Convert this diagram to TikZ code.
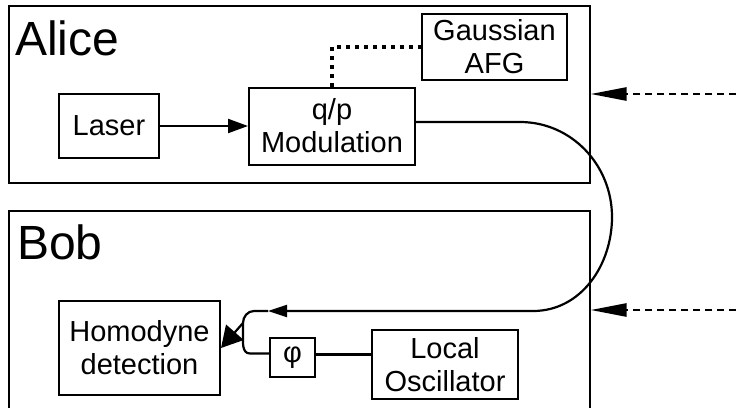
\documentclass[tikz,border=0pt]{standalone}
\usepackage{fontspec}
\setmainfont{Liberation Sans}
\usetikzlibrary{positioning}
\usetikzlibrary{arrows.meta}
\tikzstyle{frame} = [draw, rectangle, line width=1.1pt, inner sep=0pt]
\tikzstyle{block} = [draw, rectangle, line width=2pt, align=center, inner sep=2pt, font=\fontsize{29}{33}\selectfont]
\tikzstyle{party} = [anchor=base west, inner sep=0pt, font=\fontsize{48}{52}\selectfont]
\tikzstyle{beam} = [line width=2.2pt]
\tikzstyle{classical} = [line width=2.6pt, dash pattern=on 7pt off 5pt]

\begin{document}
\begin{tikzpicture}[x=1pt, y=1pt]
  \useasboundingbox (0,0) rectangle (736,-407);

  \node[frame, minimum width=581pt, minimum height=177pt] (alice) at (299.5,-94.5) {};
  \node[frame, minimum width=581pt, minimum height=220pt] (bob) at (299.5,-321) {};
  \node[party] (alicelbl) at (15,-55) {Alice};
  \node[party] (boblbl) at (17,-259) {Bob};

  \node[block, minimum width=100pt, minimum height=64pt] (laser) at (109,-126) {Laser};
  \node[block, minimum width=166pt, minimum height=77pt, right=88pt of laser] (mod) {q/p\\Modulation};
  \node[block, minimum width=145pt, minimum height=66pt, above right=6pt and 5pt of mod] (afg) {Gaussian\\AFG};

  \node[block, minimum width=161pt, minimum height=94pt, below=141pt of laser.south west, anchor=north west] (hom) {Homodyne\\detection};
  \node[block, minimum width=146pt, minimum height=69pt] (lo) at (445,-364.5) {Local\\Oscillator};
  \node[block, minimum width=45pt, minimum height=39pt, left=55pt of lo, yshift=7pt] (phi) {φ};

  \coordinate (sig) at (268,-311);
  \coordinate (merge) at (243,-323);
  \coordinate (turn) at (612,-217);
  \coordinate (syncA) at (736,-94);
  \coordinate (syncB) at (736,-310);

  \draw[beam, -{Triangle[length=20pt,width=14pt]}] (laser) -- (mod);
  \draw[line width=4pt, dash pattern=on 4pt off 5pt] (mod.north) |- (afg.west);
  \draw[beam, -{Triangle[length=19pt,width=12pt]}] ([yshift=4pt]mod.east) -- ++(104,0)
    to[out=0,in=90] (turn) to[out=-90,in=0] (533,-311) -- (sig);
  \draw[beam] (sig) -- ++(-14,0) to[out=180,in=90] (merge);
  \draw[beam] ([yshift=4pt]phi.west) -- ++(-19,0) to[out=180,in=-90] ([yshift=-10pt]merge) -- (merge);
  \draw[beam, -{Triangle[length=21pt,width=23pt]}] (merge) -- (hom.east);
  \draw[beam] ([yshift=3pt]phi.east) -- ([yshift=3pt]phi.east -| lo.west);

  \draw[classical, -{Triangle[length=36pt,width=13pt]}] (syncA) -- (syncA -| alice.east);
  \draw[classical, -{Triangle[length=36pt,width=13pt]}] (syncB) -- (syncB -| bob.east);
\end{tikzpicture}
\end{document}
